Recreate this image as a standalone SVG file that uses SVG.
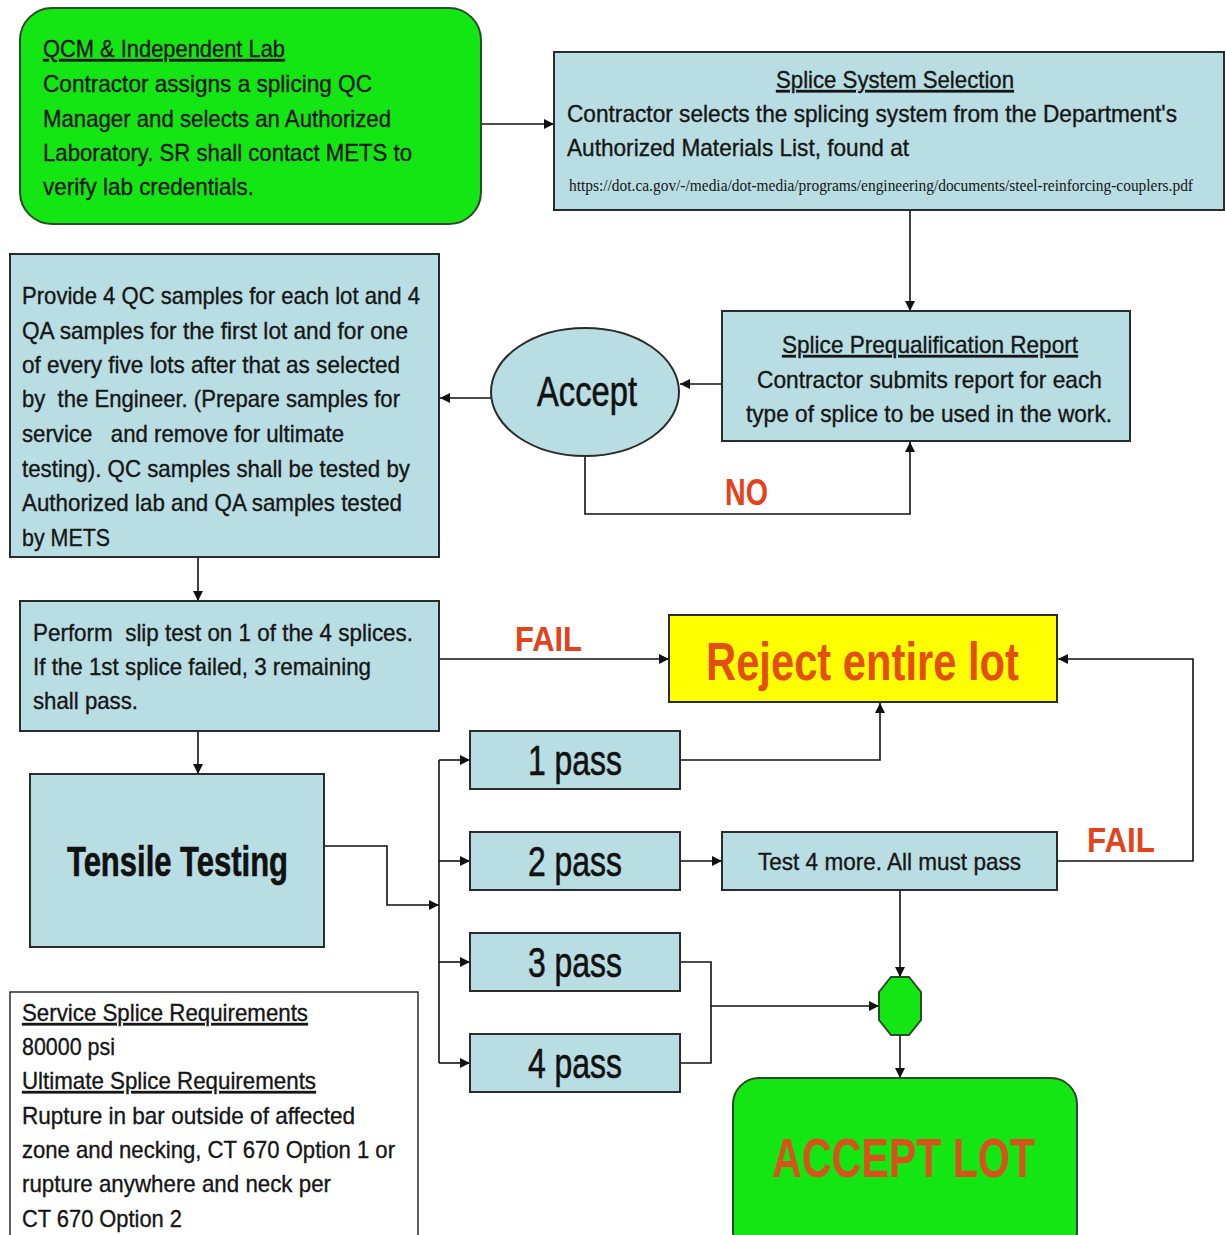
<svg xmlns="http://www.w3.org/2000/svg" width="1225" height="1235" viewBox="0 0 1225 1235">
<defs>
<marker id="ah" viewBox="0 0 10 10" refX="10" refY="5" markerWidth="10" markerHeight="10" markerUnits="userSpaceOnUse" orient="auto">
<path d="M0,0 L10,5 L0,10 z" fill="#111"/>
</marker>
<style>
.box{fill:#b8dde3;stroke:#2b2b2b;stroke-width:2}
.grn{fill:#14e614;stroke:#2c4a2c;stroke-width:2}
.wht{fill:#ffffff;stroke:#2b2b2b;stroke-width:1.5}
.t{font-family:"Liberation Sans",Arial,sans-serif;fill:#161616;font-size:24px;stroke:#161616;stroke-width:0.35}
.u{text-decoration:underline}
.red{font-family:"Liberation Sans",Arial,sans-serif;font-weight:bold;fill:#e3421b}
.big{font-family:"Liberation Sans",Arial,sans-serif;fill:#111;font-size:42px;stroke:#111;stroke-width:0.6}
.url{font-family:"Liberation Serif","Times New Roman",serif;fill:#161616;font-size:16px}
.c line,.c polyline{stroke:#111;stroke-width:1.6;fill:none}
</style>
</defs>
<rect width="1225" height="1235" fill="#ffffff"/>

<g class="c" id="connectors">
<line x1="481" y1="124" x2="554" y2="124" marker-end="url(#ah)"/>
<line x1="910" y1="210" x2="910" y2="311" marker-end="url(#ah)"/>
<line x1="722" y1="384" x2="680" y2="384" marker-end="url(#ah)"/>
<line x1="491" y1="398" x2="440" y2="398" marker-end="url(#ah)"/>
<polyline points="585,456 585,514 910,514 910,442" marker-end="url(#ah)"/>
<line x1="198" y1="557" x2="198" y2="601" marker-end="url(#ah)"/>
<line x1="439" y1="659" x2="669" y2="659" marker-end="url(#ah)"/>
<line x1="198" y1="731" x2="198" y2="774" marker-end="url(#ah)"/>
<polyline points="324,846 387,846 387,905 439,905" marker-end="url(#ah)"/>
<line x1="439" y1="760" x2="439" y2="1063"/>
<line x1="439" y1="760" x2="470" y2="760" marker-end="url(#ah)"/>
<line x1="439" y1="861" x2="470" y2="861" marker-end="url(#ah)"/>
<line x1="439" y1="962" x2="470" y2="962" marker-end="url(#ah)"/>
<line x1="439" y1="1063" x2="470" y2="1063" marker-end="url(#ah)"/>
<polyline points="680,760 880,760 880,703" marker-end="url(#ah)"/>
<line x1="680" y1="861" x2="722" y2="861" marker-end="url(#ah)"/>
<polyline points="1057,861 1193,861 1193,659 1058,659" marker-end="url(#ah)"/>
<line x1="900" y1="890" x2="900" y2="977" marker-end="url(#ah)"/>
<polyline points="680,962 711,962 711,1063 680,1063"/>
<line x1="711" y1="1006" x2="879" y2="1006" marker-end="url(#ah)"/>
<line x1="900" y1="1035" x2="900" y2="1078" marker-end="url(#ah)"/>
</g>

<g id="qcm-lab">
<rect class="grn" x="20" y="8" width="461" height="216" rx="32"/>
<text class="t u" x="43" y="57" textLength="242" lengthAdjust="spacingAndGlyphs">QCM &amp; Independent Lab</text>
<text class="t" x="43" y="92" textLength="329" lengthAdjust="spacingAndGlyphs">Contractor assigns a splicing QC</text>
<text class="t" x="43" y="127" textLength="348" lengthAdjust="spacingAndGlyphs">Manager and selects an Authorized</text>
<text class="t" x="43" y="161" textLength="369" lengthAdjust="spacingAndGlyphs">Laboratory. SR shall contact METS to</text>
<text class="t" x="43" y="195" textLength="211" lengthAdjust="spacingAndGlyphs">verify lab credentials.</text>
</g>

<g id="splice-system">
<rect class="box" x="554" y="52" width="670" height="158"/>
<text class="t u" x="776" y="88" textLength="238" lengthAdjust="spacingAndGlyphs">Splice System Selection</text>
<text class="t" x="567" y="122" textLength="610" lengthAdjust="spacingAndGlyphs">Contractor selects the splicing system from the Department's</text>
<text class="t" x="567" y="156" textLength="342" lengthAdjust="spacingAndGlyphs">Authorized Materials List, found at</text>
<text class="url" x="569" y="191" textLength="624" lengthAdjust="spacingAndGlyphs">https://dot.ca.gov/-/media/dot-media/programs/engineering/documents/steel-reinforcing-couplers.pdf</text>
</g>

<g id="prequal">
<rect class="box" x="722" y="311" width="408" height="130"/>
<text class="t u" x="782" y="353" textLength="296" lengthAdjust="spacingAndGlyphs">Splice Prequalification Report</text>
<text class="t" x="757" y="388" textLength="345" lengthAdjust="spacingAndGlyphs">Contractor submits report for each</text>
<text class="t" x="746" y="422" textLength="366" lengthAdjust="spacingAndGlyphs">type of splice to be used in the work.</text>
</g>

<g id="accept">
<ellipse class="box" cx="585" cy="392" rx="94" ry="64"/>
<text class="big" x="537" y="406" font-size="40" textLength="100" lengthAdjust="spacingAndGlyphs">Accept</text>
</g>

<g id="no-label">
<text class="red" x="725" y="505" font-size="36" textLength="43" lengthAdjust="spacingAndGlyphs">NO</text>
</g>

<g id="samples">
<rect class="box" x="10" y="254" width="429" height="303"/>
<text class="t" x="22" y="304" textLength="398" lengthAdjust="spacingAndGlyphs">Provide 4 QC samples for each lot and 4</text>
<text class="t" x="22" y="339" textLength="386" lengthAdjust="spacingAndGlyphs">QA samples for the first lot and for one</text>
<text class="t" x="22" y="373" textLength="378" lengthAdjust="spacingAndGlyphs">of every five lots after that as selected</text>
<text class="t" x="22" y="407" textLength="378" lengthAdjust="spacingAndGlyphs" xml:space="preserve">by  the Engineer. (Prepare samples for</text>
<text class="t" x="22" y="442" textLength="322" lengthAdjust="spacingAndGlyphs" xml:space="preserve">service   and remove for ultimate</text>
<text class="t" x="22" y="477" textLength="388" lengthAdjust="spacingAndGlyphs">testing). QC samples shall be tested by</text>
<text class="t" x="22" y="511" textLength="380" lengthAdjust="spacingAndGlyphs">Authorized lab and QA samples tested</text>
<text class="t" x="22" y="546" textLength="88" lengthAdjust="spacingAndGlyphs">by METS</text>
</g>

<g id="slip-test">
<rect class="box" x="20" y="601" width="419" height="130"/>
<text class="t" x="33" y="641" textLength="380" lengthAdjust="spacingAndGlyphs" xml:space="preserve">Perform  slip test on 1 of the 4 splices.</text>
<text class="t" x="33" y="675" textLength="338" lengthAdjust="spacingAndGlyphs">If the 1st splice failed, 3 remaining</text>
<text class="t" x="33" y="709" textLength="105" lengthAdjust="spacingAndGlyphs">shall pass.</text>
</g>

<g id="fail-labels">
<text class="red" x="515" y="651" font-size="35" textLength="67" lengthAdjust="spacingAndGlyphs">FAIL</text>
<text class="red" x="1087" y="852" font-size="35" textLength="68" lengthAdjust="spacingAndGlyphs">FAIL</text>
</g>

<g id="reject">
<rect x="669" y="615" width="388" height="87" fill="#ffff00" stroke="#2b2b2b" stroke-width="2"/>
<text class="red" x="706" y="680" font-size="54" style="fill:#e54e12" textLength="313" lengthAdjust="spacingAndGlyphs">Reject entire lot</text>
</g>

<g id="tensile">
<rect class="box" x="30" y="774" width="294" height="173"/>
<text class="big" x="67" y="876" font-size="41" font-weight="bold" stroke-width="0" textLength="221" lengthAdjust="spacingAndGlyphs">Tensile Testing</text>
</g>

<g id="pass1">
<rect class="box" x="470" y="731" width="210" height="58"/>
<text class="big" x="528" y="775" textLength="94" lengthAdjust="spacingAndGlyphs">1 pass</text>
</g>
<g id="pass2">
<rect class="box" x="470" y="832" width="210" height="58"/>
<text class="big" x="528" y="876" textLength="94" lengthAdjust="spacingAndGlyphs">2 pass</text>
</g>
<g id="pass3">
<rect class="box" x="470" y="933" width="210" height="58"/>
<text class="big" x="528" y="977" textLength="94" lengthAdjust="spacingAndGlyphs">3 pass</text>
</g>
<g id="pass4">
<rect class="box" x="470" y="1034" width="210" height="58"/>
<text class="big" x="528" y="1078" textLength="94" lengthAdjust="spacingAndGlyphs">4 pass</text>
</g>

<g id="test4more">
<rect class="box" x="722" y="832" width="335" height="58"/>
<text class="t" x="758" y="870" font-size="26" textLength="263" lengthAdjust="spacingAndGlyphs">Test 4 more. All must pass</text>
</g>

<g id="junction">
<polygon class="grn" points="891,977 909,977 921,992 921,1020 909,1035 891,1035 879,1020 879,992"/>
</g>

<g id="accept-lot">
<rect class="grn" x="733" y="1078" width="344" height="180" rx="26"/>
<text class="red" x="772" y="1177" font-size="56" style="fill:#d9521c" textLength="263" lengthAdjust="spacingAndGlyphs">ACCEPT LOT</text>
</g>

<g id="requirements">
<rect class="wht" x="10" y="992" width="408" height="260"/>
<text class="t u" x="22" y="1021" textLength="286" lengthAdjust="spacingAndGlyphs">Service Splice Requirements</text>
<text class="t" x="22" y="1055" textLength="93" lengthAdjust="spacingAndGlyphs">80000 psi</text>
<text class="t u" x="22" y="1089" textLength="294" lengthAdjust="spacingAndGlyphs">Ultimate Splice Requirements</text>
<text class="t" x="22" y="1124" textLength="333" lengthAdjust="spacingAndGlyphs">Rupture in bar outside of affected</text>
<text class="t" x="22" y="1158" textLength="373" lengthAdjust="spacingAndGlyphs">zone and necking, CT 670 Option 1 or</text>
<text class="t" x="22" y="1192" textLength="309" lengthAdjust="spacingAndGlyphs">rupture anywhere and neck per</text>
<text class="t" x="22" y="1227" textLength="160" lengthAdjust="spacingAndGlyphs">CT 670 Option 2</text>
</g>
</svg>
